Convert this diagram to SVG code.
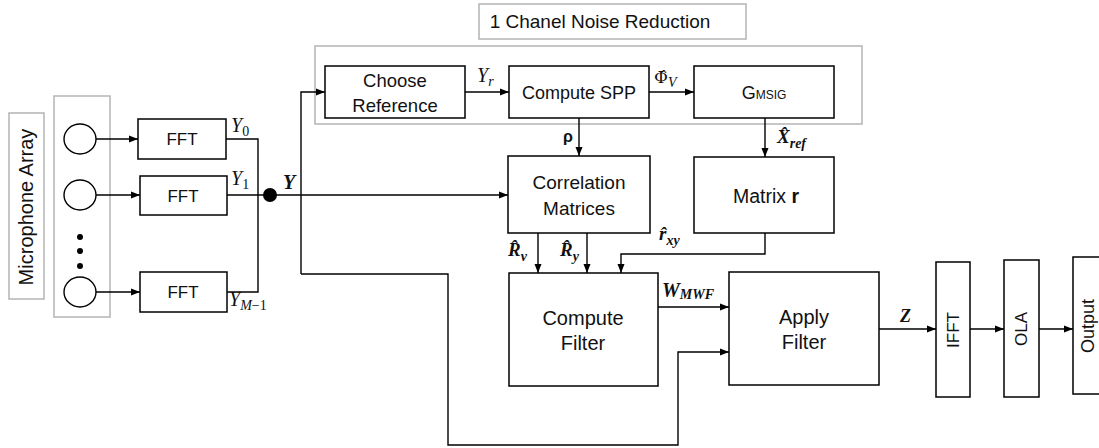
<svg xmlns="http://www.w3.org/2000/svg" width="1099" height="448" viewBox="0 0 1099 448">
<defs>
<marker id="ah" markerUnits="userSpaceOnUse" markerWidth="10" markerHeight="8" refX="9" refY="4" orient="auto">
<path d="M0,0.5 L9,4 L0,7.5 Z" fill="#000"/>
</marker>
<style>
.box{fill:#fff;stroke:#000;stroke-width:1.5}
.gbox{fill:none;stroke:#b4b4b4;stroke-width:1.5}
.gboxf{fill:#fff;stroke:#b4b4b4;stroke-width:1.5}
.t{font-family:"Liberation Sans",Arial,sans-serif;fill:#111;text-anchor:middle}
.m{font-family:"Liberation Serif","DejaVu Serif",serif;font-style:italic;fill:#111}
.mb{font-family:"Liberation Serif","DejaVu Serif",serif;font-style:italic;font-weight:bold;fill:#111}
.up{font-style:normal}
.c{fill:none;stroke:#000;stroke-width:1.4}
.a{marker-end:url(#ah)}
</style>
</defs>
<rect width="1099" height="448" fill="#fff"/>

<g id="containers">
<rect class="gbox" x="315" y="46" width="547" height="78"/>
</g>

<g id="title">
<rect class="gboxf" x="479" y="4" width="267" height="35"/>
<text class="t" x="600" y="28" font-size="19">1 Chanel Noise Reduction</text>
</g>

<g id="mic-label">
<rect class="gboxf" x="9" y="113" width="35" height="186"/>
<text class="t" transform="translate(33,207) rotate(-90)" font-size="20">Microphone Array</text>
</g>

<g id="mic-array">
<rect class="gboxf" x="54" y="96" width="56" height="221"/>
<ellipse cx="80" cy="139" rx="16" ry="15" fill="#fff" stroke="#000" stroke-width="1.4"/>
<ellipse cx="80" cy="195" rx="16" ry="15" fill="#fff" stroke="#000" stroke-width="1.4"/>
<ellipse cx="80" cy="292" rx="16" ry="15" fill="#fff" stroke="#000" stroke-width="1.4"/>
<circle cx="80" cy="237" r="3" fill="#000"/>
<circle cx="80" cy="251" r="3" fill="#000"/>
<circle cx="80" cy="266" r="3" fill="#000"/>
</g>

<g id="fft0"><rect class="box" x="138" y="119" width="88" height="40"/><text class="t" x="182" y="145" font-size="17">FFT</text></g>
<g id="fft1"><rect class="box" x="140" y="176" width="87" height="39"/><text class="t" x="183" y="202" font-size="17">FFT</text></g>
<g id="fft2"><rect class="box" x="140" y="272" width="87" height="40"/><text class="t" x="183" y="298" font-size="17">FFT</text></g>

<g id="choose-reference"><rect class="box" x="325" y="66" width="140" height="52"/>
<text class="t" x="395" y="87" font-size="18.5">Choose</text><text class="t" x="395" y="112" font-size="18.5">Reference</text></g>
<g id="compute-spp"><rect class="box" x="509" y="66" width="140" height="52"/>
<text class="t" x="579" y="99" font-size="18">Compute SPP</text></g>
<g id="gmsig"><rect class="box" x="694" y="66" width="140" height="52"/>
<text class="t" x="764" y="99" font-size="18">G<tspan font-size="12">MSIG</tspan></text></g>

<g id="correlation-matrices"><rect class="box" x="508" y="156" width="142" height="77"/>
<text class="t" x="579" y="189" font-size="19">Correlation</text><text class="t" x="579" y="215" font-size="19">Matrices</text></g>
<g id="matrix-r"><rect class="box" x="694" y="157" width="140" height="76"/>
<text class="t" x="766" y="203" font-size="19.5">Matrix <tspan font-weight="bold">r</tspan></text></g>

<g id="compute-filter"><rect class="box" x="509" y="273" width="149" height="113"/>
<text class="t" x="583" y="325" font-size="20">Compute</text><text class="t" x="583" y="350" font-size="20">Filter</text></g>
<g id="apply-filter"><rect class="box" x="729" y="272" width="150" height="113"/>
<text class="t" x="804" y="324" font-size="20">Apply</text><text class="t" x="804" y="349" font-size="20">Filter</text></g>

<g id="ifft"><rect class="box" x="936" y="262" width="34" height="135"/>
<text class="t" transform="translate(959,330) rotate(-90)" font-size="17">IFFT</text></g>
<g id="ola"><rect class="box" x="1004" y="260" width="35" height="137"/>
<text class="t" transform="translate(1027,329) rotate(-90)" font-size="17">OLA</text></g>
<g id="output"><rect class="box" x="1073" y="257" width="40" height="137"/>
<text class="t" transform="translate(1094,326) rotate(-90)" font-size="18">Output</text></g>

<g id="connectors">
<path class="c a" d="M96,139 H138"/>
<path class="c a" d="M96,195 H140"/>
<path class="c a" d="M96,292 H140"/>
<path class="c" d="M226,139 H258 V292 H227"/>
<path class="c a" d="M227,195 H508"/>
<circle cx="270" cy="195" r="7" fill="#000"/>
<path class="c a" d="M301,274 V92 H325"/>
<path class="c a" d="M301,274 H448 V445 H678 V352 H729"/>
<path class="c a" d="M465,92 H509"/>
<path class="c a" d="M649,92 H694"/>
<path class="c a" d="M579,118 V156"/>
<path class="c a" d="M765,118 V157"/>
<path class="c a" d="M538,233 V273"/>
<path class="c a" d="M587,233 V273"/>
<path class="c a" d="M765,233 V254 H621 V273"/>
<path class="c a" d="M658,307 H729"/>
<path class="c a" d="M879,329 H936"/>
<path class="c a" d="M970,329 H1004"/>
<path class="c a" d="M1039,329 H1073"/>
</g>

<g id="labels">
<text class="m" x="231" y="132" font-size="20">Y<tspan class="up" font-size="14" dy="4">0</tspan></text>
<text class="m" x="231" y="185" font-size="20">Y<tspan class="up" font-size="14" dy="4">1</tspan></text>
<text class="m" x="229" y="306" font-size="20">Y<tspan font-size="14" dy="4">M</tspan><tspan class="up" font-size="14">−1</tspan></text>
<text class="mb" x="283" y="189" font-size="20">Y</text>
<text class="m" x="477" y="82" font-size="20">Y<tspan font-size="14" dy="4">r</tspan></text>
<text class="m" x="654" y="83" font-size="19"><tspan class="up" font-family="DejaVu Serif, serif" font-size="17">Φ̂</tspan><tspan font-size="14" dy="4">V</tspan></text>
<text x="563" y="142" font-size="16" font-weight="bold" font-family="Liberation Sans, sans-serif" fill="#111">ρ</text>
<text class="mb" x="777" y="143" font-size="19">X̂<tspan font-size="14" dy="5">ref</tspan></text>
<text class="mb" x="508" y="256" font-size="19">R̂<tspan font-size="14" dy="5">v</tspan></text>
<text class="mb" x="560" y="256" font-size="19">R̂<tspan font-size="14" dy="5">y</tspan></text>
<text class="mb" x="659" y="240" font-size="19">r̂<tspan font-size="14" dy="5">xy</tspan></text>
<text class="mb" x="662" y="297" font-size="20">W<tspan font-size="14" dy="2">MWF</tspan></text>
<text class="mb" x="900" y="322" font-size="18">Z</text>
</g>
</svg>
